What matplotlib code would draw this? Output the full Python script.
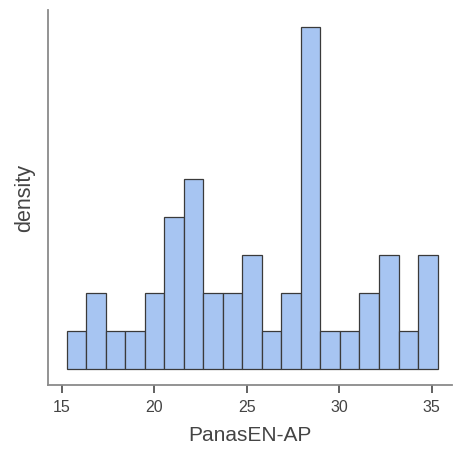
import matplotlib
matplotlib.use("Agg")
import matplotlib.pyplot as plt
import numpy as np

# Histogram of PanasEN-AP scores: 19 bins starting at 15.25
bin_start = 15.25
bin_width = 1.056
counts = [1, 2, 1, 1, 2, 4, 5, 2, 2, 3, 1, 2, 9, 1, 1, 2, 3, 1, 3]
x_ticks = [15, 20, 25, 30, 35]

edges = bin_start + bin_width * np.arange(len(counts) + 1)

plt.rcParams['font.family'] = ['Liberation Sans', 'DejaVu Sans']

fig = plt.figure(figsize=(4.53, 4.53), dpi=100)
ax = fig.add_axes([0.106, 0.150, 0.892, 0.828])

ax.hist(edges[:-1], bins=edges, weights=counts,
        color='#a7c5f2', edgecolor='#3a3a3a', linewidth=0.9)

ax.set_xlim(14.24, 36.1)
ax.set_ylim(-0.42, 9.45)
ax.set_xticks(x_ticks)
ax.set_yticks([])

for side in ['top', 'right']:
    ax.spines[side].set_visible(False)
for side in ['left', 'bottom']:
    ax.spines[side].set_color('#8a8a8a')
    ax.spines[side].set_linewidth(1.3)

ax.tick_params(axis='x', length=6, width=1.3, color='#555555',
               labelsize=11.5, labelcolor='#444444', pad=5)

ax.set_xlabel('PanasEN-AP', fontsize=15, color='#444444', labelpad=8)
ax.set_ylabel('density', fontsize=15.5, color='#444444', labelpad=9)

fig.savefig('out.png', dpi=100)
